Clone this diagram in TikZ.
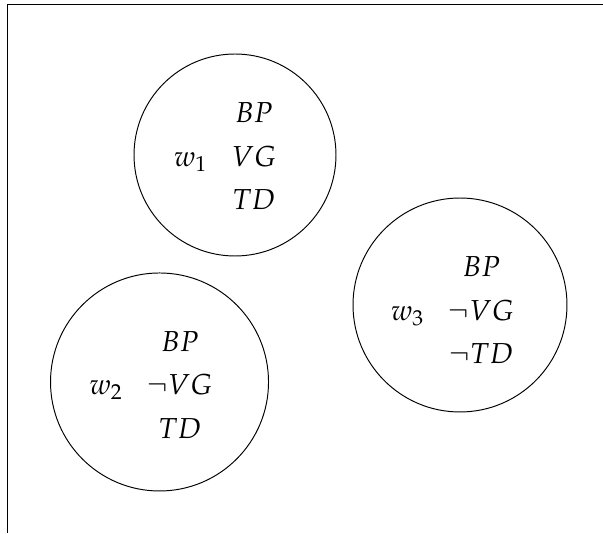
\documentclass[12pt,tikz,border=0pt]{standalone}
\usepackage{amsmath}
\usepackage{mathpazo}
\usepackage{tikz}
\renewcommand{\arraystretch}{1.25}

\begin{document}
\begin{tikzpicture}[world/.style={circle,draw,inner sep=0pt}]
\useasboundingbox (0,0) rectangle (8.804,-7.782);
\draw (8.804,-0.063) -- (0.107,-0.063) -- (0.107,-7.782);

\foreach \n/\x/\y/\d in {1/3.431/-2.263/2.949,2/2.329/-5.577/3.183,3/6.716/-4.453/3.124}{
\node[world,minimum size=\d cm] (c\n) at (\x,\y) {};}

\foreach \n/\x/\y/\v/\t in {1/3.285/-2.300/{VG}/{TD},2/2.205/-5.636/{\neg VG}/{TD},3/6.607/-4.548/{\neg VG}/{\neg TD}}{
\node (t\n) at (\x,\y) {$\begin{array}{cc} & BP\\ w_\n & \v\\ & \t\end{array}$};}

\end{tikzpicture}
\end{document}
